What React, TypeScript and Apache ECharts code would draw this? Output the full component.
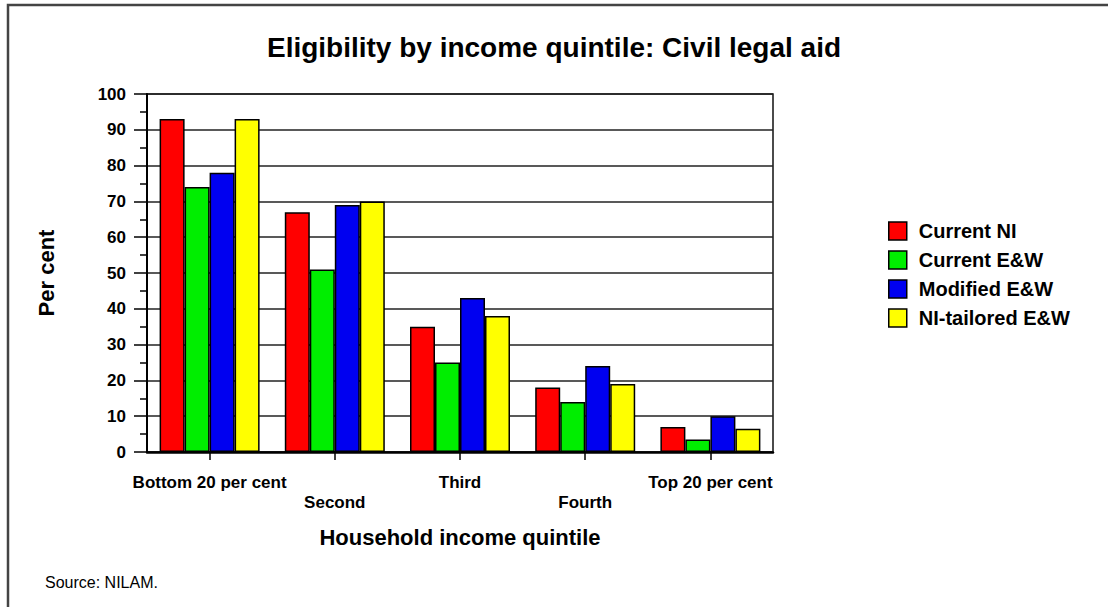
import React, { useEffect, useRef } from 'react';
import * as echarts from 'echarts';

const categories = ['Bottom 20 per cent', 'Second', 'Third', 'Fourth', 'Top 20 per cent'];
const seriesNames = ['Current NI', 'Current E&W', 'Modified E&W', 'NI-tailored E&W'];
const currentNI = [93, 67, 35, 18, 7];
const currentEW = [74, 51, 25, 14, 3.5];
const modifiedEW = [78, 69, 43, 24, 10];
const niTailoredEW = [93, 70, 38, 19, 6.5];
const seriesValues = [currentNI, currentEW, modifiedEW, niTailoredEW];
const seriesColors = ['#ff0000', '#00ee00', '#0000f0', '#ffff00'];

const titleText = 'Eligibility by income quintile: Civil legal aid';
const xAxisTitle = 'Household income quintile';
const yAxisTitle = 'Per cent';
const sourceText = 'Source: NILAM.';

const FONT = 'Arial, "Liberation Sans", sans-serif';

export default function App() {
  const ref = useRef<HTMLDivElement>(null);
  useEffect(() => {
    if (!ref.current) return;
    const chart = echarts.init(ref.current, null, { renderer: 'svg' });
    chart.setOption({
      animation: false,
      backgroundColor: '#ffffff',
      textStyle: { fontFamily: FONT },
      title: {
        text: titleText,
        left: 'center',
        top: 33,
        padding: 0,
        textStyle: { fontFamily: FONT, fontSize: 28, fontWeight: 'bold', color: '#000' },
      },
      legend: {
        orient: 'vertical',
        left: 888,
        top: 221,
        padding: 0,
        itemWidth: 18,
        itemHeight: 18,
        itemGap: 9,
        icon: 'rect',
        itemStyle: { borderColor: '#000', borderWidth: 1.5 },
        textStyle: { fontFamily: FONT, fontSize: 20, fontWeight: 'bold', color: '#000', padding: [0, 0, 0, 7] },
        data: seriesNames,
      },
      grid: {
        left: 147,
        top: 94,
        right: 335,
        bottom: 155,
        show: true,
        borderColor: '#111',
        borderWidth: 1.5,
        backgroundColor: 'transparent',
      },
      xAxis: {
        type: 'category',
        data: categories,
        name: xAxisTitle,
        nameLocation: 'middle',
        nameGap: 74,
        nameTextStyle: { fontFamily: FONT, fontSize: 22, fontWeight: 'bold', color: '#000' },
        axisLine: { show: true, lineStyle: { color: '#000', width: 2.5 } },
        axisTick: { show: true, alignWithLabel: true, length: 8, lineStyle: { color: '#000', width: 1.5 } },
        axisLabel: {
          interval: 0,
          margin: 20,
          fontFamily: FONT,
          fontSize: 17,
          fontWeight: 'bold',
          color: '#000',
          lineHeight: 20,
          formatter: (v: string, i: number) => (i % 2 === 1 ? '\n' + v : v),
        },
      },
      yAxis: {
        type: 'value',
        min: 0,
        max: 100,
        interval: 10,
        name: yAxisTitle,
        nameLocation: 'middle',
        nameGap: 90,
        nameTextStyle: { fontFamily: FONT, fontSize: 22, fontWeight: 'bold', color: '#000' },
        axisLine: { show: true, lineStyle: { color: '#000', width: 2 } },
        axisTick: { show: true, length: 13, lineStyle: { color: '#000', width: 1.5 } },
        minorTick: { show: true, splitNumber: 2, length: 7, lineStyle: { color: '#000', width: 1.5 } },
        axisLabel: { margin: 21, fontFamily: FONT, fontSize: 17, fontWeight: 'bold', color: '#000' },
        splitLine: { show: true, lineStyle: { color: '#222', width: 1.5 } },
      },
      series: seriesNames.map((name, k) => ({
        name,
        type: 'bar',
        data: seriesValues[k],
        barWidth: 25,
        barGap: '0%',
        itemStyle: { color: seriesColors[k], borderColor: '#000', borderWidth: 1.5 },
      })),
      graphic: [
        {
          type: 'rect',
          shape: { x: 8, y: 5, width: 1120, height: 700 },
          style: { fill: 'none', stroke: '#444', lineWidth: 2.5 },
          silent: true,
        },
        {
          type: 'text',
          left: 45,
          top: 574,
          style: { text: sourceText, fontFamily: FONT, fontSize: 16, fill: '#000' },
        },
      ],
    });
    return () => chart.dispose();
  }, []);
  return <div ref={ref} style={{ position: 'absolute', left: 0, top: 0, width: 1108, height: 607 }} />;
}
